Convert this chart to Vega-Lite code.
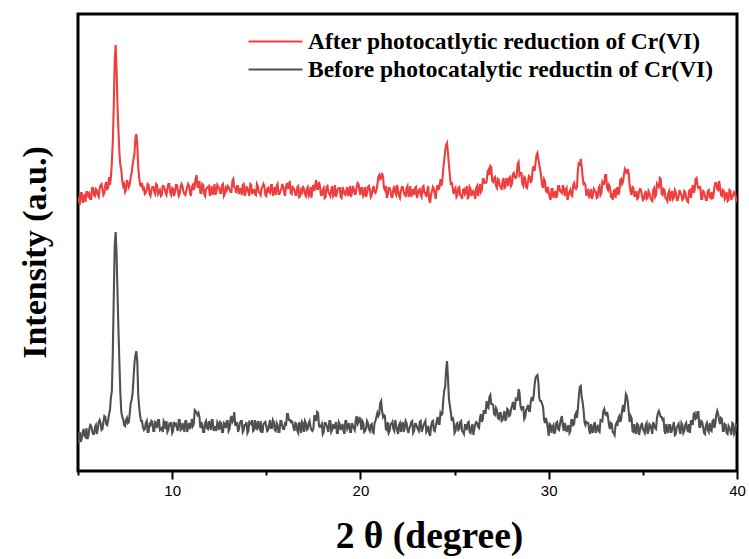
{
"$schema": "https://vega.github.io/schema/vega-lite/v6.json",
"width": 659, "height": 457,
"autosize": {"type": "none"},
"padding": {"left": 78, "top": 14, "right": 12, "bottom": 88},
"background": "white",
"config": {"view": {"stroke": "#000", "strokeWidth": 3}},
"data": {"values": [
{"x":5.0,"a":274,"b":28},{"x":5.1,"a":268,"b":38},{"x":5.2,"a":278,"b":33},{"x":5.3,"a":272,"b":42},{"x":5.4,"a":269,"b":34},{"x":5.5,"a":279,"b":32},{"x":5.6,"a":277,"b":42},{"x":5.7,"a":272,"b":45},{"x":5.8,"a":283,"b":37},{"x":5.9,"a":275,"b":44},
{"x":6.0,"a":281,"b":37},{"x":6.1,"a":274,"b":49},{"x":6.2,"a":286,"b":48},{"x":6.3,"a":282,"b":42},{"x":6.4,"a":278,"b":55},{"x":6.5,"a":289,"b":47},{"x":6.6,"a":283,"b":51},{"x":6.7,"a":286,"b":61},{"x":6.8,"a":309,"b":80},{"x":6.9,"a":365,"b":174},{"x":6.95,"a":411,"b":226},
{"x":7.0,"a":426,"b":239},{"x":7.05,"a":401,"b":216},{"x":7.1,"a":363,"b":177},{"x":7.2,"a":318,"b":107},{"x":7.3,"a":301,"b":59},{"x":7.4,"a":285,"b":52},{"x":7.5,"a":279,"b":45},{"x":7.6,"a":291,"b":53},{"x":7.7,"a":284,"b":49},{"x":7.8,"a":294,"b":68},{"x":7.9,"a":306,"b":78},
{"x":8.0,"a":317,"b":108},{"x":8.05,"a":333,"b":116},{"x":8.1,"a":337,"b":120},{"x":8.15,"a":326,"b":109},{"x":8.2,"a":304,"b":76},{"x":8.3,"a":286,"b":55},{"x":8.4,"a":288,"b":50},{"x":8.5,"a":283,"b":41},{"x":8.6,"a":278,"b":48},{"x":8.7,"a":287,"b":39},{"x":8.8,"a":277,"b":47},{"x":8.9,"a":281,"b":50},
{"x":9.0,"a":284,"b":40},{"x":9.1,"a":277,"b":49},{"x":9.2,"a":286,"b":43},{"x":9.3,"a":279,"b":51},{"x":9.4,"a":275,"b":42},{"x":9.5,"a":285,"b":39},{"x":9.6,"a":282,"b":48},{"x":9.7,"a":276,"b":50},{"x":9.8,"a":287,"b":41},{"x":9.9,"a":278,"b":46},
{"x":10.0,"a":283,"b":38},{"x":10.1,"a":275,"b":49},{"x":10.2,"a":286,"b":47},{"x":10.3,"a":281,"b":40},{"x":10.4,"a":277,"b":51},{"x":10.5,"a":287,"b":42},{"x":10.6,"a":279,"b":44},{"x":10.7,"a":276,"b":50},{"x":10.8,"a":284,"b":39},{"x":10.9,"a":285,"b":48},
{"x":11.0,"a":275,"b":45},{"x":11.1,"a":286,"b":45},{"x":11.2,"a":285,"b":61},{"x":11.3,"a":296,"b":58},{"x":11.4,"a":286,"b":58},{"x":11.5,"a":278,"b":43},{"x":11.6,"a":287,"b":46},{"x":11.7,"a":277,"b":39},{"x":11.8,"a":282,"b":50},{"x":11.9,"a":284,"b":42},
{"x":12.0,"a":275,"b":47},{"x":12.1,"a":285,"b":51},{"x":12.2,"a":279,"b":40},{"x":12.3,"a":276,"b":44},{"x":12.4,"a":286,"b":49},{"x":12.5,"a":283,"b":41},{"x":12.6,"a":278,"b":48},{"x":12.7,"a":287,"b":39},{"x":12.8,"a":277,"b":47},{"x":12.9,"a":281,"b":50},
{"x":13.0,"a":284,"b":40},{"x":13.1,"a":279,"b":52},{"x":13.2,"a":290,"b":49},{"x":13.3,"a":284,"b":59},{"x":13.4,"a":278,"b":46},{"x":13.5,"a":285,"b":39},{"x":13.6,"a":282,"b":48},{"x":13.7,"a":276,"b":50},{"x":13.8,"a":287,"b":41},{"x":13.9,"a":278,"b":46},
{"x":14.0,"a":283,"b":38},{"x":14.1,"a":275,"b":49},{"x":14.2,"a":286,"b":47},{"x":14.3,"a":281,"b":40},{"x":14.4,"a":277,"b":51},{"x":14.5,"a":287,"b":42},{"x":14.6,"a":279,"b":44},{"x":14.7,"a":276,"b":50},{"x":14.8,"a":284,"b":39},{"x":14.9,"a":285,"b":48},
{"x":15.0,"a":275,"b":45},{"x":15.1,"a":283,"b":41},{"x":15.2,"a":278,"b":51},{"x":15.3,"a":286,"b":43},{"x":15.4,"a":280,"b":49},{"x":15.5,"a":276,"b":40},{"x":15.6,"a":287,"b":46},{"x":15.7,"a":277,"b":39},{"x":15.8,"a":282,"b":50},{"x":15.9,"a":284,"b":42},
{"x":16.0,"a":275,"b":49},{"x":16.1,"a":288,"b":57},{"x":16.2,"a":285,"b":51},{"x":16.3,"a":278,"b":49},{"x":16.4,"a":284,"b":48},{"x":16.5,"a":281,"b":40},{"x":16.6,"a":276,"b":47},{"x":16.7,"a":285,"b":38},{"x":16.8,"a":275,"b":46},{"x":16.9,"a":279,"b":49},
{"x":17.0,"a":282,"b":39},{"x":17.1,"a":275,"b":48},{"x":17.2,"a":284,"b":42},{"x":17.3,"a":277,"b":50},{"x":17.4,"a":273,"b":41},{"x":17.5,"a":286,"b":42},{"x":17.6,"a":286,"b":55},{"x":17.7,"a":282,"b":59},{"x":17.8,"a":289,"b":45},{"x":17.9,"a":276,"b":45},
{"x":18.0,"a":281,"b":37},{"x":18.1,"a":273,"b":48},{"x":18.2,"a":284,"b":46},{"x":18.3,"a":279,"b":39},{"x":18.4,"a":275,"b":50},{"x":18.5,"a":285,"b":41},{"x":18.6,"a":277,"b":43},{"x":18.7,"a":274,"b":49},{"x":18.8,"a":282,"b":38},{"x":18.9,"a":283,"b":47},
{"x":19.0,"a":273,"b":44},{"x":19.1,"a":281,"b":40},{"x":19.2,"a":276,"b":50},{"x":19.3,"a":284,"b":42},{"x":19.4,"a":278,"b":48},{"x":19.5,"a":274,"b":39},{"x":19.6,"a":285,"b":45},{"x":19.7,"a":277,"b":41},{"x":19.8,"a":284,"b":55},{"x":19.9,"a":287,"b":49},
{"x":20.0,"a":276,"b":50},{"x":20.1,"a":283,"b":50},{"x":20.2,"a":277,"b":39},{"x":20.3,"a":274,"b":43},{"x":20.4,"a":284,"b":48},{"x":20.5,"a":281,"b":40},{"x":20.6,"a":276,"b":47},{"x":20.7,"a":285,"b":38},{"x":20.8,"a":278,"b":50},{"x":20.9,"a":286,"b":58},
{"x":21.0,"a":296,"b":57},{"x":21.1,"a":293,"b":70},{"x":21.2,"a":294,"b":54},{"x":21.3,"a":281,"b":55},{"x":21.4,"a":273,"b":41},{"x":21.5,"a":283,"b":38},{"x":21.6,"a":280,"b":47},{"x":21.7,"a":274,"b":49},{"x":21.8,"a":285,"b":40},{"x":21.9,"a":276,"b":45},
{"x":22.0,"a":281,"b":37},{"x":22.1,"a":273,"b":48},{"x":22.2,"a":284,"b":46},{"x":22.3,"a":279,"b":39},{"x":22.4,"a":275,"b":50},{"x":22.5,"a":285,"b":41},{"x":22.6,"a":277,"b":43},{"x":22.7,"a":274,"b":49},{"x":22.8,"a":282,"b":38},{"x":22.9,"a":283,"b":47},
{"x":23.0,"a":273,"b":44},{"x":23.1,"a":281,"b":40},{"x":23.2,"a":276,"b":50},{"x":23.3,"a":284,"b":42},{"x":23.4,"a":278,"b":48},{"x":23.5,"a":274,"b":39},{"x":23.6,"a":285,"b":45},{"x":23.7,"a":268,"b":35},{"x":23.8,"a":280,"b":49},{"x":23.9,"a":282,"b":41},
{"x":24.0,"a":272,"b":45},{"x":24.1,"a":286,"b":54},{"x":24.2,"a":284,"b":47},{"x":24.3,"a":285,"b":56},{"x":24.4,"a":303,"b":71},{"x":24.5,"a":320,"b":84},{"x":24.55,"a":326,"b":101},{"x":24.6,"a":328,"b":110},{"x":24.65,"a":318,"b":93},{"x":24.7,"a":306,"b":72},{"x":24.8,"a":286,"b":59},{"x":24.9,"a":283,"b":54},
{"x":25.0,"a":281,"b":38},{"x":25.1,"a":274,"b":47},{"x":25.2,"a":283,"b":41},{"x":25.3,"a":276,"b":49},{"x":25.4,"a":272,"b":40},{"x":25.5,"a":282,"b":37},{"x":25.6,"a":279,"b":46},{"x":25.7,"a":273,"b":48},{"x":25.8,"a":284,"b":39},{"x":25.9,"a":275,"b":44},
{"x":26.0,"a":280,"b":36},{"x":26.1,"a":272,"b":47},{"x":26.2,"a":285,"b":48},{"x":26.3,"a":281,"b":43},{"x":26.4,"a":279,"b":57},{"x":26.5,"a":292,"b":52},{"x":26.6,"a":288,"b":58},{"x":26.7,"a":289,"b":70},{"x":26.8,"a":301,"b":63},{"x":26.9,"a":305,"b":76},
{"x":27.0,"a":290,"b":67},{"x":27.1,"a":293,"b":57},{"x":27.2,"a":285,"b":63},{"x":27.3,"a":292,"b":53},{"x":27.4,"a":285,"b":58},{"x":27.5,"a":281,"b":50},{"x":27.6,"a":293,"b":56},{"x":27.7,"a":284,"b":50},{"x":27.8,"a":290,"b":62},{"x":27.9,"a":293,"b":55},
{"x":28.0,"a":285,"b":62},{"x":28.1,"a":297,"b":69},{"x":28.2,"a":294,"b":62},{"x":28.3,"a":295,"b":71},{"x":28.4,"a":309,"b":82},{"x":28.5,"a":298,"b":65},{"x":28.6,"a":287,"b":64},{"x":28.7,"a":294,"b":52},{"x":28.8,"a":284,"b":61},{"x":28.9,"a":289,"b":66},
{"x":29.0,"a":294,"b":60},{"x":29.1,"a":291,"b":74},{"x":29.2,"a":305,"b":75},{"x":29.3,"a":308,"b":93},{"x":29.35,"a":316,"b":95},{"x":29.4,"a":318,"b":96},{"x":29.45,"a":312,"b":89},{"x":29.5,"a":306,"b":73},{"x":29.6,"a":294,"b":70},{"x":29.7,"a":283,"b":64},{"x":29.8,"a":290,"b":48},{"x":29.9,"a":279,"b":49},
{"x":30.0,"a":279,"b":35},{"x":30.1,"a":271,"b":46},{"x":30.2,"a":282,"b":44},{"x":30.3,"a":277,"b":37},{"x":30.4,"a":273,"b":48},{"x":30.5,"a":285,"b":42},{"x":30.6,"a":280,"b":47},{"x":30.7,"a":278,"b":55},{"x":30.8,"a":283,"b":40},{"x":30.9,"a":281,"b":45},
{"x":31.0,"a":271,"b":42},{"x":31.1,"a":279,"b":38},{"x":31.2,"a":276,"b":51},{"x":31.3,"a":286,"b":46},{"x":31.4,"a":283,"b":56},{"x":31.5,"a":284,"b":53},{"x":31.6,"a":309,"b":75},{"x":31.7,"a":312,"b":85},{"x":31.8,"a":294,"b":69},{"x":31.9,"a":288,"b":49},
{"x":32.0,"a":275,"b":49},{"x":32.1,"a":281,"b":48},{"x":32.2,"a":275,"b":37},{"x":32.3,"a":272,"b":41},{"x":32.4,"a":282,"b":46},{"x":32.5,"a":279,"b":38},{"x":32.6,"a":274,"b":45},{"x":32.7,"a":285,"b":39},{"x":32.8,"a":278,"b":51},{"x":32.9,"a":287,"b":60},
{"x":33.0,"a":296,"b":57},{"x":33.1,"a":283,"b":59},{"x":33.2,"a":286,"b":46},{"x":33.3,"a":275,"b":48},{"x":33.4,"a":271,"b":39},{"x":33.5,"a":281,"b":36},{"x":33.6,"a":280,"b":48},{"x":33.7,"a":276,"b":53},{"x":33.8,"a":291,"b":49},{"x":33.9,"a":287,"b":61},
{"x":34.0,"a":297,"b":59},{"x":34.1,"a":300,"b":77},{"x":34.2,"a":302,"b":69},{"x":34.3,"a":285,"b":49},{"x":34.4,"a":276,"b":53},{"x":34.5,"a":283,"b":39},{"x":34.6,"a":275,"b":41},{"x":34.7,"a":272,"b":47},{"x":34.8,"a":280,"b":36},{"x":34.9,"a":281,"b":45},
{"x":35.0,"a":271,"b":42},{"x":35.1,"a":277,"b":38},{"x":35.2,"a":272,"b":48},{"x":35.3,"a":280,"b":40},{"x":35.4,"a":274,"b":46},{"x":35.5,"a":270,"b":37},{"x":35.6,"a":283,"b":46},{"x":35.7,"a":276,"b":42},{"x":35.8,"a":285,"b":58},{"x":35.9,"a":293,"b":57},
{"x":36.0,"a":277,"b":54},{"x":36.1,"a":282,"b":52},{"x":36.2,"a":273,"b":37},{"x":36.3,"a":270,"b":41},{"x":36.4,"a":280,"b":46},{"x":36.5,"a":277,"b":38},{"x":36.6,"a":272,"b":45},{"x":36.7,"a":281,"b":36},{"x":36.8,"a":271,"b":44},{"x":36.9,"a":275,"b":47},
{"x":37.0,"a":278,"b":37},{"x":37.1,"a":271,"b":46},{"x":37.2,"a":280,"b":40},{"x":37.3,"a":273,"b":48},{"x":37.4,"a":269,"b":39},{"x":37.5,"a":281,"b":38},{"x":37.6,"a":280,"b":50},{"x":37.7,"a":278,"b":57},{"x":37.8,"a":292,"b":52},{"x":37.9,"a":286,"b":59},
{"x":38.0,"a":284,"b":44},{"x":38.1,"a":272,"b":50},{"x":38.2,"a":280,"b":44},{"x":38.3,"a":275,"b":37},{"x":38.4,"a":271,"b":48},{"x":38.5,"a":281,"b":39},{"x":38.6,"a":273,"b":41},{"x":38.7,"a":272,"b":50},{"x":38.8,"a":284,"b":43},{"x":38.9,"a":288,"b":56},
{"x":39.0,"a":281,"b":57},{"x":39.1,"a":284,"b":47},{"x":39.2,"a":275,"b":52},{"x":39.3,"a":280,"b":40},{"x":39.4,"a":274,"b":46},{"x":39.5,"a":270,"b":37},{"x":39.6,"a":281,"b":43},{"x":39.7,"a":271,"b":36},{"x":39.8,"a":276,"b":47},{"x":39.9,"a":278,"b":39},
{"x":40.0,"a":269,"b":44},
{"x":5.05,"a":269,"b":38},{"x":5.15,"a":278,"b":29},{"x":5.25,"a":268,"b":39},{"x":5.35,"a":277,"b":35},{"x":5.45,"a":279,"b":43},{"x":5.55,"a":275,"b":35},{"x":5.65,"a":272,"b":46},{"x":5.75,"a":283,"b":40},{"x":5.85,"a":276,"b":37},{"x":5.95,"a":282,"b":46},
{"x":6.05,"a":276,"b":42},{"x":6.15,"a":282,"b":51},{"x":6.25,"a":287,"b":41},{"x":6.35,"a":276,"b":49},{"x":6.45,"a":286,"b":54},{"x":6.55,"a":282,"b":46},{"x":6.65,"a":294,"b":57},{"x":6.75,"a":294,"b":74},{"x":6.85,"a":330,"b":120},
{"x":7.15,"a":340,"b":140},{"x":7.25,"a":306,"b":78},{"x":7.35,"a":290,"b":54},{"x":7.45,"a":287,"b":46},{"x":7.55,"a":281,"b":51},{"x":7.65,"a":288,"b":48},{"x":7.75,"a":287,"b":58},{"x":7.85,"a":298,"b":71},{"x":7.95,"a":312,"b":93},
{"x":8.25,"a":293,"b":64},{"x":8.35,"a":285,"b":50},{"x":8.45,"a":282,"b":44},{"x":8.55,"a":277,"b":42},{"x":8.65,"a":282,"b":50},{"x":8.75,"a":286,"b":39},{"x":8.85,"a":275,"b":46},{"x":8.95,"a":284,"b":49},
{"x":9.05,"a":279,"b":40},{"x":9.15,"a":287,"b":48},{"x":9.25,"a":277,"b":51},{"x":9.35,"a":281,"b":41},{"x":9.45,"a":276,"b":43},{"x":9.55,"a":285,"b":50},{"x":9.65,"a":278,"b":42},{"x":9.75,"a":283,"b":39},{"x":9.85,"a":287,"b":47},{"x":9.95,"a":276,"b":49},
{"x":10.05,"a":282,"b":40},{"x":10.15,"a":279,"b":46},{"x":10.25,"a":286,"b":43},{"x":10.35,"a":275,"b":51},{"x":10.45,"a":284,"b":41},{"x":10.55,"a":285,"b":48},{"x":10.65,"a":277,"b":39},{"x":10.75,"a":280,"b":50},{"x":10.85,"a":287,"b":45},{"x":10.95,"a":278,"b":42},
{"x":11.05,"a":284,"b":52},{"x":11.15,"a":281,"b":47},{"x":11.25,"a":293,"b":60},{"x":11.35,"a":283,"b":56},{"x":11.45,"a":290,"b":54},{"x":11.55,"a":278,"b":49},{"x":11.65,"a":286,"b":39},{"x":11.75,"a":275,"b":48},{"x":11.85,"a":283,"b":43},{"x":11.95,"a":285,"b":50},
{"x":12.05,"a":280,"b":41},{"x":12.15,"a":276,"b":51},{"x":12.25,"a":287,"b":44},{"x":12.35,"a":279,"b":40},{"x":12.45,"a":284,"b":47},{"x":12.55,"a":278,"b":49},{"x":12.65,"a":286,"b":39},{"x":12.75,"a":275,"b":48},{"x":12.85,"a":283,"b":43},{"x":12.95,"a":285,"b":50},
{"x":13.05,"a":281,"b":42},{"x":13.15,"a":279,"b":55},{"x":13.25,"a":292,"b":51},{"x":13.35,"a":283,"b":46},{"x":13.45,"a":285,"b":49},{"x":13.55,"a":277,"b":42},{"x":13.65,"a":282,"b":50},{"x":13.75,"a":286,"b":39},{"x":13.85,"a":275,"b":46},{"x":13.95,"a":284,"b":49},
{"x":14.05,"a":279,"b":40},{"x":14.15,"a":287,"b":48},{"x":14.25,"a":277,"b":51},{"x":14.35,"a":281,"b":41},{"x":14.45,"a":276,"b":43},{"x":14.55,"a":285,"b":50},{"x":14.65,"a":278,"b":42},{"x":14.75,"a":283,"b":39},{"x":14.85,"a":287,"b":47},{"x":14.95,"a":276,"b":49},
{"x":15.05,"a":282,"b":40},{"x":15.15,"a":279,"b":46},{"x":15.25,"a":286,"b":43},{"x":15.35,"a":275,"b":51},{"x":15.45,"a":284,"b":41},{"x":15.55,"a":285,"b":48},{"x":15.65,"a":277,"b":39},{"x":15.75,"a":280,"b":50},{"x":15.85,"a":287,"b":45},{"x":15.95,"a":278,"b":42},
{"x":16.05,"a":285,"b":45},{"x":16.15,"a":282,"b":57},{"x":16.25,"a":290,"b":51},{"x":16.35,"a":277,"b":50},{"x":16.45,"a":283,"b":43},{"x":16.55,"a":276,"b":48},{"x":16.65,"a":284,"b":40},{"x":16.75,"a":274,"b":49},{"x":16.85,"a":281,"b":38},{"x":16.95,"a":285,"b":47},
{"x":17.05,"a":277,"b":50},{"x":17.15,"a":282,"b":41},{"x":17.25,"a":275,"b":48},{"x":17.35,"a":284,"b":44},{"x":17.45,"a":283,"b":40},{"x":17.55,"a":280,"b":55},{"x":17.65,"a":291,"b":50},{"x":17.75,"a":282,"b":58},{"x":17.85,"a":285,"b":44},{"x":17.95,"a":276,"b":47},
{"x":18.05,"a":283,"b":39},{"x":18.15,"a":274,"b":48},{"x":18.25,"a":285,"b":42},{"x":18.35,"a":277,"b":50},{"x":18.45,"a":281,"b":39},{"x":18.55,"a":275,"b":47},{"x":18.65,"a":286,"b":43},{"x":18.75,"a":278,"b":38},{"x":18.85,"a":283,"b":49},{"x":18.95,"a":274,"b":41},
{"x":19.05,"a":284,"b":47},{"x":19.15,"a":277,"b":37},{"x":19.25,"a":281,"b":50},{"x":19.35,"a":275,"b":44},{"x":19.45,"a":285,"b":39},{"x":19.55,"a":278,"b":48},{"x":19.65,"a":282,"b":43},{"x":19.75,"a":277,"b":51},{"x":19.85,"a":288,"b":47},{"x":19.95,"a":280,"b":54},
{"x":20.05,"a":283,"b":41},{"x":20.15,"a":275,"b":48},{"x":20.25,"a":284,"b":40},{"x":20.35,"a":278,"b":50},{"x":20.45,"a":285,"b":42},{"x":20.55,"a":274,"b":46},{"x":20.65,"a":282,"b":39},{"x":20.75,"a":279,"b":48},{"x":20.85,"a":281,"b":54},{"x":20.95,"a":294,"b":55},
{"x":21.05,"a":292,"b":68},{"x":21.15,"a":298,"b":60},{"x":21.25,"a":283,"b":56},{"x":21.35,"a":285,"b":42},{"x":21.45,"a":276,"b":49},{"x":21.55,"a":283,"b":40},{"x":21.65,"a":274,"b":47},{"x":21.75,"a":282,"b":42},{"x":21.85,"a":278,"b":51},{"x":21.95,"a":286,"b":41},
{"x":22.05,"a":275,"b":46},{"x":22.15,"a":280,"b":39},{"x":22.25,"a":284,"b":49},{"x":22.35,"a":276,"b":43},{"x":22.45,"a":283,"b":48},{"x":22.55,"a":274,"b":38},{"x":22.65,"a":285,"b":45},{"x":22.75,"a":279,"b":50},{"x":22.85,"a":276,"b":40},{"x":22.95,"a":284,"b":47},
{"x":23.05,"a":277,"b":42},{"x":23.15,"a":282,"b":49},{"x":23.25,"a":274,"b":39},{"x":23.35,"a":285,"b":46},{"x":23.45,"a":278,"b":50},{"x":23.55,"a":281,"b":41},{"x":23.65,"a":272,"b":38},{"x":23.75,"a":276,"b":44},{"x":23.85,"a":284,"b":50},{"x":23.95,"a":277,"b":40},
{"x":24.05,"a":282,"b":50},{"x":24.15,"a":281,"b":47},{"x":24.25,"a":292,"b":58},{"x":24.35,"a":290,"b":57},{"x":24.45,"a":311,"b":80},{"x":24.75,"a":296,"b":65},{"x":24.85,"a":289,"b":50},{"x":24.95,"a":277,"b":49},
{"x":25.05,"a":283,"b":40},{"x":25.15,"a":276,"b":48},{"x":25.25,"a":284,"b":42},{"x":25.35,"a":275,"b":50},{"x":25.45,"a":281,"b":39},{"x":25.55,"a":277,"b":46},{"x":25.65,"a":285,"b":41},{"x":25.75,"a":274,"b":49},{"x":25.85,"a":282,"b":38},{"x":25.95,"a":279,"b":47},
{"x":26.05,"a":276,"b":42},{"x":26.15,"a":283,"b":49},{"x":26.25,"a":275,"b":44},{"x":26.35,"a":287,"b":53},{"x":26.45,"a":281,"b":49},{"x":26.55,"a":292,"b":61},{"x":26.65,"a":288,"b":58},{"x":26.75,"a":299,"b":64},{"x":26.85,"a":296,"b":74},{"x":26.95,"a":304,"b":67},
{"x":27.05,"a":289,"b":66},{"x":27.15,"a":294,"b":56},{"x":27.25,"a":283,"b":61},{"x":27.35,"a":291,"b":52},{"x":27.45,"a":284,"b":58},{"x":27.55,"a":290,"b":51},{"x":27.65,"a":283,"b":60},{"x":27.75,"a":293,"b":53},{"x":27.85,"a":285,"b":61},{"x":27.95,"a":294,"b":56},
{"x":28.05,"a":287,"b":65},{"x":28.15,"a":298,"b":62},{"x":28.25,"a":293,"b":72},{"x":28.35,"a":307,"b":71},{"x":28.45,"a":296,"b":78},{"x":28.55,"a":298,"b":62},{"x":28.65,"a":285,"b":64},{"x":28.75,"a":293,"b":54},{"x":28.85,"a":283,"b":63},{"x":28.95,"a":295,"b":60},
{"x":29.05,"a":288,"b":70},{"x":29.15,"a":302,"b":70},{"x":29.25,"a":300,"b":86},{"x":29.55,"a":301,"b":70},{"x":29.65,"a":286,"b":67},{"x":29.75,"a":292,"b":52},{"x":29.85,"a":280,"b":53},{"x":29.95,"a":284,"b":43},
{"x":30.05,"a":274,"b":47},{"x":30.15,"a":282,"b":38},{"x":30.25,"a":273,"b":46},{"x":30.35,"a":280,"b":40},{"x":30.45,"a":276,"b":49},{"x":30.55,"a":285,"b":41},{"x":30.65,"a":279,"b":52},{"x":30.75,"a":286,"b":45},{"x":30.85,"a":275,"b":48},{"x":30.95,"a":283,"b":39},
{"x":31.05,"a":276,"b":46},{"x":31.15,"a":281,"b":40},{"x":31.25,"a":275,"b":51},{"x":31.35,"a":288,"b":47},{"x":31.45,"a":282,"b":58},{"x":31.55,"a":301,"b":62},{"x":31.65,"a":305,"b":84},{"x":31.75,"a":305,"b":74},{"x":31.85,"a":287,"b":61},{"x":31.95,"a":286,"b":46},
{"x":32.05,"a":280,"b":48},{"x":32.15,"a":274,"b":41},{"x":32.25,"a":282,"b":47},{"x":32.35,"a":276,"b":38},{"x":32.45,"a":280,"b":49},{"x":32.55,"a":273,"b":44},{"x":32.65,"a":283,"b":40},{"x":32.75,"a":276,"b":51},{"x":32.85,"a":289,"b":50},{"x":32.95,"a":287,"b":62},
{"x":33.05,"a":296,"b":56},{"x":33.15,"a":281,"b":54},{"x":33.25,"a":284,"b":42},{"x":33.35,"a":276,"b":47},{"x":33.45,"a":280,"b":38},{"x":33.55,"a":273,"b":46},{"x":33.65,"a":284,"b":45},{"x":33.75,"a":279,"b":55},{"x":33.85,"a":292,"b":52},{"x":33.95,"a":289,"b":66},
{"x":34.05,"a":302,"b":67},{"x":34.15,"a":297,"b":75},{"x":34.25,"a":297,"b":59},{"x":34.35,"a":279,"b":55},{"x":34.45,"a":284,"b":40},{"x":34.55,"a":275,"b":47},{"x":34.65,"a":280,"b":37},{"x":34.75,"a":273,"b":46},{"x":34.85,"a":282,"b":41},{"x":34.95,"a":276,"b":48},
{"x":35.05,"a":272,"b":40},{"x":35.15,"a":280,"b":46},{"x":35.25,"a":273,"b":37},{"x":35.35,"a":278,"b":47},{"x":35.45,"a":271,"b":42},{"x":35.55,"a":281,"b":49},{"x":35.65,"a":274,"b":43},{"x":35.75,"a":287,"b":53},{"x":35.85,"a":284,"b":60},{"x":35.95,"a":292,"b":54},
{"x":36.05,"a":276,"b":51},{"x":36.15,"a":281,"b":40},{"x":36.25,"a":272,"b":47},{"x":36.35,"a":278,"b":38},{"x":36.45,"a":270,"b":46},{"x":36.55,"a":280,"b":41},{"x":36.65,"a":274,"b":49},{"x":36.75,"a":279,"b":37},{"x":36.85,"a":271,"b":45},{"x":36.95,"a":281,"b":40},
{"x":37.05,"a":276,"b":48},{"x":37.15,"a":272,"b":38},{"x":37.25,"a":279,"b":46},{"x":37.35,"a":270,"b":42},{"x":37.45,"a":280,"b":47},{"x":37.55,"a":273,"b":50},{"x":37.65,"a":286,"b":46},{"x":37.75,"a":281,"b":58},{"x":37.85,"a":293,"b":53},{"x":37.95,"a":283,"b":59},
{"x":38.05,"a":284,"b":44},{"x":38.15,"a":272,"b":49},{"x":38.25,"a":279,"b":38},{"x":38.35,"a":271,"b":46},{"x":38.45,"a":280,"b":41},{"x":38.55,"a":274,"b":48},{"x":38.65,"a":279,"b":40},{"x":38.75,"a":275,"b":51},{"x":38.85,"a":288,"b":48},{"x":38.95,"a":282,"b":60},
{"x":39.05,"a":290,"b":51},{"x":39.15,"a":276,"b":53},{"x":39.25,"a":281,"b":40},{"x":39.35,"a":272,"b":47},{"x":39.45,"a":279,"b":38},{"x":39.55,"a":271,"b":45},{"x":39.65,"a":280,"b":40},{"x":39.75,"a":274,"b":48},{"x":39.85,"a":279,"b":37},{"x":39.95,"a":272,"b":46}
]},
"transform": [{"fold": ["a", "b"], "as": ["series", "intensity"]}],
"mark": {"type": "line", "strokeWidth": 2.1, "clip": true},
"encoding": {
  "x": {"field": "x", "type": "quantitative",
    "scale": {"domain": [5, 40], "nice": false, "zero": false},
    "axis": {"title": "2 θ (degree)", "values": [5, 10, 15, 20, 25, 30, 35, 40],
      "labelExpr": "datum.value % 10 === 0 ? datum.label : ''",
      "domain": false, "grid": false, "tickColor": "#000", "tickWidth": 2,
      "tickSize": {"condition": {"test": "datum.value % 10 === 0", "value": 8}, "value": 4},
      "labelFont": "Liberation Sans", "labelFontSize": 15, "labelColor": "#000", "labelPadding": 4, "labelFlush": false,
      "titleFont": "Liberation Serif", "titleFontWeight": "bold", "titleFontSize": 37.5, "titleColor": "#000",
      "titleX": 351, "titleY": 76, "titleBaseline": "alphabetic", "titleAlign": "center"}},
  "y": {"field": "intensity", "type": "quantitative",
    "scale": {"domain": [0, 457], "nice": false, "zero": false},
    "axis": {"title": "Intensity (a.u.)", "labels": false, "ticks": false, "domain": false, "grid": false,
      "titleFont": "Liberation Serif", "titleFontWeight": "bold", "titleFontSize": 34, "titleColor": "#000",
      "titleX": -33, "titleY": 238, "titleAlign": "center", "titleBaseline": "alphabetic", "titleAngle": -90}},
  "color": {"field": "series", "type": "nominal",
    "scale": {"domain": ["a", "b"], "range": ["#ef3e3e", "#505050"]},
    "legend": {"orient": "none", "legendX": 183, "legendY": 13, "title": null,
      "symbolType": "M-2,0H2", "symbolSize": 729, "symbolStrokeWidth": 1.8,
      "labelFont": "Liberation Serif", "labelFontWeight": "bold", "labelFontSize": 23.5, "labelColor": "#000",
      "labelOffset": 18, "rowPadding": 2, "padding": 0, "labelLimit": 0,
      "labelExpr": "datum.value === 'a' ? 'After photocatlytic reduction of Cr(VI)' : 'Before photocatalytic reductin of Cr(VI)'"}}
}
}
